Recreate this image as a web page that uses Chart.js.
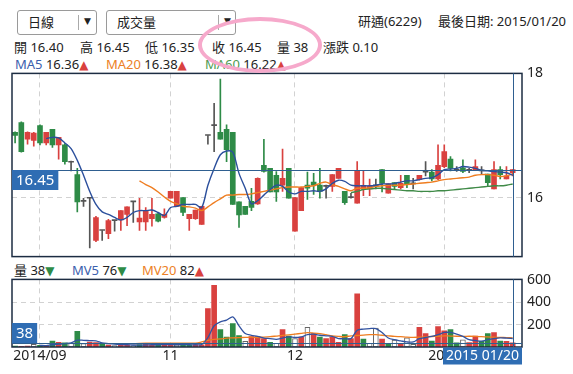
<!DOCTYPE html>
<html>
<head>
<meta charset="utf-8">
<script src="https://cdn.jsdelivr.net/npm/chart.js@4.4.1/dist/chart.umd.min.js"></script>
<style>
body { margin: 0; width: 573px; height: 374px; position: relative; overflow: hidden; background: #fff;
       font-family: "Noto Sans", "Noto Sans CJK TC", sans-serif; font-size: 13px; color: #222; }
.t { position: absolute; white-space: nowrap; line-height: 16px; }
.tri { font-family: "DejaVu Sans", sans-serif; font-size: 12px; }
.up { color: #d9413f; }
.down { color: #2e8b47; }
.sel { position: absolute; top: 10px; height: 25px; border: 1px solid #9a9a9a; border-radius: 3px; box-sizing: border-box; background: #fff; }
.sel .bar { position: absolute; top: 4px; width: 1px; height: 15px; background: #aaa; }
.sel .arr { position: absolute; top: 5px; font-family: "DejaVu Sans", sans-serif; font-size: 9px; color: #222; }
canvas { position: absolute; left: 0; }
#ring { position: absolute; left: 198px; top: 17px; width: 124px; height: 56px; box-sizing: border-box;
        border: 4px solid #f6a9cb; border-radius: 50%; }
</style>
</head>
<body>

<div class="sel" style="left:17px;width:80px"><span class="t" style="left:10px;top:3px">日線</span><div class="bar" style="left:60px"></div><span class="arr" style="left:66px">▼</span></div>
<div class="sel" style="left:106px;width:130px"><span class="t" style="left:10px;top:3px">成交量</span><div class="bar" style="left:111px"></div><span class="arr" style="left:117px">▼</span></div>
<span class="t" style="left:358px;top:13px">研通(6229)</span>
<span class="t" style="left:438px;top:13px">最後日期: 2015/01/20</span>

<span class="t" style="left:14px;top:39px">開 16.40</span>
<span class="t" style="left:80px;top:39px">高 16.45</span>
<span class="t" style="left:145px;top:39px">低 16.35</span>
<span class="t" style="left:212px;top:39px">收 16.45</span>
<span class="t" style="left:277px;top:39px">量 38</span>
<span class="t" style="left:323px;top:39px">漲跌 0.10</span>

<span class="t" style="left:15px;top:56px"><span style="color:#3b60ad">MA5</span> 16.36<span class="tri up">▲</span></span>
<span class="t" style="left:106px;top:56px"><span style="color:#ec7f26">MA20</span> 16.38<span class="tri up">▲</span></span>
<span class="t" style="left:205px;top:56px"><span style="color:#4d9a50">MA60</span> 16.22<span class="tri up">▲</span></span>

<span class="t" style="left:14px;top:262px">量 38<span class="tri down">▼</span></span>
<span class="t" style="left:72px;top:262px"><span style="color:#3b60ad">MV5</span> 76<span class="tri down">▼</span></span>
<span class="t" style="left:142px;top:262px"><span style="color:#ec7f26">MV20</span> 82<span class="tri up">▲</span></span>

<canvas id="price" width="573" height="210" style="top:60px"></canvas>
<canvas id="vol" width="573" height="108" style="top:266px"></canvas>
<div id="ring"></div>

<script>
// 月份刻度
const monthIdx = [4, 25, 45, 69];
const monthText = ['2014/09', '11', '12', '2015'];
const slotCount = 82;

// 日K
const openP = [17.05, 17.21, 16.94, 16.92, 17.16, 16.88, 17.10, 16.85, 16.85, 16.57,
  16.37, 15.94, 15.99, 15.31, 15.47, 15.42, 15.63, 15.64, 15.73, 15.93,
  15.61, 15.61, 15.66, 15.74, 15.68, 15.99, 15.86, 16.00, 15.66, 15.66,
  15.57, 17.00, 17.16, 17.05, 17.10, 17.05, 15.93, 15.86, 15.94, 15.90,
  16.52, 16.47, 16.36, 16.20, 16.47, 15.46, 15.79, 16.20, 16.25, 16.20,
  16.18, 16.18, 16.31, 16.10, 16.00, 15.91, 16.14, 16.14, 16.19, 16.45,
  16.07, 16.24, 16.16, 16.36, 16.22, 16.29, 16.41, 16.41, 16.30, 16.50,
  16.62, 16.44, 16.48, 16.44, 16.45, 16.43, 16.38, 16.14, 16.45, 16.30, 16.40];
const highP = [17.06, 17.22, 17.06, 17.05, 17.17, 17.05, 17.10, 16.97, 16.87, 16.59,
  16.47, 15.99, 15.99, 15.70, 15.47, 15.65, 15.63, 15.79, 15.85, 15.94,
  15.99, 15.84, 15.99, 15.75, 15.82, 16.10, 16.10, 16.00, 15.73, 15.80,
  15.86, 17.00, 17.52, 17.91, 17.17, 17.05, 15.93, 15.86, 16.15, 16.32,
  16.94, 16.47, 16.42, 16.78, 16.47, 16.00, 16.16, 16.41, 16.39, 16.47,
  16.20, 16.37, 16.47, 16.10, 16.07, 16.58, 16.43, 16.30, 16.30, 16.45,
  16.22, 16.24, 16.36, 16.36, 16.31, 16.36, 16.58, 16.45, 16.85, 16.85,
  16.66, 16.50, 16.61, 16.47, 16.61, 16.50, 16.38, 16.58, 16.50, 16.50, 16.45];
const lowP = [16.88, 16.73, 16.86, 16.83, 16.85, 16.85, 16.81, 16.62, 16.54, 16.43,
  15.77, 15.86, 15.19, 15.29, 15.31, 15.34, 15.46, 15.47, 15.55, 15.60,
  15.47, 15.47, 15.54, 15.61, 15.67, 15.99, 15.86, 15.71, 15.47, 15.65,
  15.57, 16.86, 16.74, 16.94, 16.58, 15.89, 15.52, 15.73, 15.79, 15.89,
  16.41, 16.09, 15.94, 16.10, 15.99, 15.46, 15.79, 15.97, 16.05, 15.99,
  15.99, 16.10, 16.31, 15.89, 15.99, 15.91, 16.03, 16.03, 16.14, 16.09,
  16.07, 16.14, 16.14, 16.16, 16.14, 16.28, 16.35, 16.27, 16.29, 16.48,
  16.43, 16.42, 16.40, 16.40, 16.45, 16.38, 16.19, 16.14, 16.30, 16.30, 16.35];
const closeP = [17.00, 16.74, 17.05, 17.04, 16.88, 17.05, 16.85, 16.97, 16.58, 16.57,
  15.93, 15.94, 15.99, 15.68, 15.47, 15.63, 15.63, 15.79, 15.85, 15.93,
  15.67, 15.78, 15.73, 15.62, 15.73, 16.10, 16.10, 15.76, 15.73, 15.80,
  15.86, 17.00, 17.16, 16.94, 16.77, 15.89, 15.72, 15.73, 15.84, 16.31,
  16.42, 16.09, 16.09, 16.31, 15.99, 16.00, 16.16, 16.15, 16.20, 16.10,
  16.18, 16.37, 16.47, 15.92, 16.00, 16.43, 16.19, 16.19, 16.19, 16.23,
  16.22, 16.18, 16.23, 16.22, 16.22, 16.36, 16.41, 16.30, 16.52, 16.74,
  16.47, 16.44, 16.42, 16.44, 16.50, 16.43, 16.24, 16.45, 16.37, 16.35, 16.45];

const ma5 = [null, null, null, null, null, 16.95, 16.97, 16.96, 16.88, 16.79,
  16.60, 16.36, 16.10, 15.89, 15.77, 15.73, 15.68, 15.64, 15.68, 15.76,
  15.79, 15.79, 15.80, 15.76, 15.71, 15.84, 15.86, 15.89, 15.89, 15.89,
  15.84, 16.20, 16.47, 16.69, 16.75, 16.73, 16.39, 16.15, 15.90, 15.95,
  16.04, 16.13, 16.20, 16.18, 16.09, 16.06, 16.10, 16.10, 16.11, 16.10,
  16.14, 16.23, 16.28, 16.26, 16.20, 16.19, 16.19, 16.19, 16.20, 16.22,
  16.22, 16.23, 16.25, 16.27, 16.27, 16.29, 16.31, 16.32, 16.37, 16.45,
  16.46, 16.47, 16.50, 16.49, 16.47, 16.44, 16.43, 16.42, 16.41, 16.40, 16.36];
const ma20 = [null, null, null, null, null, null, null, null, null, null,
  null, null, null, null, null, null, null, null, null, null,
  16.27, 16.21, 16.16, 16.09, 16.01, 15.94, 15.90, 15.86, 15.85, 15.83,
  15.79, 15.85, 15.92, 15.98, 16.04, 16.04, 16.05, 16.05, 16.06, 16.08,
  16.10, 16.12, 16.14, 16.16, 16.17, 16.17, 16.17, 16.18, 16.19, 16.23,
  16.25, 16.21, 16.18, 16.14, 16.11, 16.15, 16.15, 16.16, 16.18, 16.19,
  16.20, 16.20, 16.20, 16.21, 16.22, 16.23, 16.24, 16.25, 16.27, 16.29,
  16.30, 16.31, 16.32, 16.33, 16.36, 16.37, 16.37, 16.36, 16.34, 16.35, 16.38];
const ma60 = [null, null, null, null, null, null, null, null, null, null,
  null, null, null, null, null, null, null, null, null, null,
  null, null, null, null, null, null, null, null, null, null,
  null, null, null, null, null, null, null, null, null, null,
  null, null, null, null, null, null, null, null, null, null,
  null, null, null, null, 16.08, 16.10, 16.13, 16.14, 16.15, 16.15,
  16.14, 16.13, 16.12, 16.11, 16.11, 16.10, 16.10, 16.10, 16.11, 16.11,
  16.12, 16.13, 16.14, 16.15, 16.16, 16.17, 16.18, 16.19, 16.19, 16.20, 16.22];

// 成交量 (張) 與漲跌方向 1 漲 / -1 跌 / 0 平
const volume = [9, 6, 9, 23, 15, 12, 53, 41, 38, 32,
  141, 30, 45, 40, 25, 18, 12, 32, 20, 12,
  22, 25, 20, 28, 22, 30, 18, 25, 20, 22,
  20, 344, 552, 156, 88, 209, 103, 50, 94, 94,
  76, 42, 32, 156, 97, 76, 88, 176, 120, 88,
  76, 88, 42, 112, 76, 476, 70, 32, 170, 70,
  32, 62, 32, 82, 23, 176, 120, 53, 182, 144,
  156, 38, 65, 40, 97, 50, 120, 129, 53, 50, 38];
const volDir = [-1, 1, 1, 0, -1, 1, -1, 1, -1, 0,
  -1, 0, 1, 1, -1, 1, 0, 1, 1, 0,
  -1, 1, 1, -1, 1, 1, 0, -1, -1, 1,
  1, 1, 1, -1, -1, -1, -1, 0, 1, 1,
  1, -1, 0, 1, -1, 0, 1, 0, 1, -1,
  1, 1, 1, -1, 1, 1, -1, 0, 0, 1,
  -1, 0, 1, 0, 0, 1, 1, -1, 1, 1,
  -1, -1, 0, 1, 1, -1, -1, 1, -1, 1, 1];
const mv5 = [null, null, null, null, 14, 13, 20, 25, 30, 37,
  61, 60, 57, 55, 36, 30, 25, 22, 20, 18,
  17, 18, 20, 20, 21, 22, 22, 22, 20, 20,
  22, 85, 190, 225, 240, 270, 190, 120, 105, 95,
  80, 75, 68, 80, 90, 85, 90, 110, 115, 105,
  100, 95, 75, 75, 75, 150, 160, 165, 165, 130,
  80, 65, 55, 45, 45, 75, 85, 95, 110, 130,
  130, 115, 95, 65, 58, 52, 65, 75, 82, 80, 76];
const mv20 = [null, null, null, null, null, null, null, null, null, null,
  null, null, null, null, null, null, null, null, null, 30,
  33, 34, 34, 34, 35, 35, 35, 34, 34, 34,
  45, 60, 68, 72, 80, 82, 84, 86, 88, 85,
  88, 92, 98, 104, 108, 115, 122, 128, 125, 120,
  110, 100, 95, 92, 100, 103, 106, 110, 110, 105,
  100, 95, 92, 88, 86, 88, 90, 94, 96, 100,
  98, 96, 95, 96, 95, 92, 90, 88, 86, 84, 82];

const priceTicks = [16, 18];
const volTicks = [200, 400, 600];
const lastClose = 16.45;
const lastVol = 38;
const lastDate = '2015 01/20';

const RED = '#d9413f', GREEN = '#2e8b47', FLAT = '#555';
const GRID = '#d2d2d2';
const FONT = '"Noto Sans", "Noto Sans CJK TC", sans-serif';
Chart.defaults.font.family = FONT;

const labels = [];
for (let i = 0; i < slotCount; i++) {
  const k = monthIdx.indexOf(i);
  labels.push(k >= 0 ? monthText[k] : '');
}

const candleColor = openP.map((o, i) => closeP[i] > o ? RED : (closeP[i] < o ? GREEN : FLAT));

// 外框
const frame = {
  id: 'frame',
  afterDraw(chart) {
    const { ctx, chartArea: a } = chart;
    ctx.save();
    ctx.strokeStyle = '#1c2c42';
    ctx.lineWidth = 1.5;
    ctx.strokeRect(a.left, a.top, a.right - a.left, a.bottom - a.top);
    ctx.restore();
  }
};

// 十字線 + 標籤
function crossPlugin(value, text, boxAbove, dateBox) {
  return {
    id: 'cross',
    afterDraw(chart) {
      const { ctx, chartArea: a, scales } = chart;
      const y = Math.round(scales.y.getPixelForValue(value)) + 0.5;
      const x = Math.round(scales.x.getPixelForValue(closeP.length - 1)) + 0.5;
      ctx.save();
      ctx.strokeStyle = '#2f5f90';
      ctx.lineWidth = 1;
      ctx.beginPath();
      ctx.moveTo(a.left, y); ctx.lineTo(a.right, y);
      ctx.moveTo(x, a.top); ctx.lineTo(x, a.bottom);
      ctx.stroke();

      ctx.font = '15px ' + FONT;
      ctx.textBaseline = 'middle';
      ctx.textAlign = 'center';
      const w = ctx.measureText(text).width + 8;
      const by = boxAbove ? y - 20.5 : y - 0.5;
      ctx.fillStyle = '#2f6db3';
      ctx.fillRect(a.left, by, w, 20);
      ctx.fillStyle = '#fff';
      ctx.fillText(text, a.left + w / 2, by + 10.5);

      if (dateBox) {
        ctx.fillStyle = '#2f6db3';
        ctx.fillRect(a.right - 79, a.bottom + 0.5, 79, 17);
        ctx.fillStyle = '#fff';
        ctx.font = '14px ' + FONT;
        ctx.fillText(dateBox, a.right - 39.5, a.bottom + 9.5);
      }
      ctx.restore();
    }
  };
}

function lineSet(data, color, width) {
  return { type: 'line', data: data, borderColor: color, borderWidth: width,
           pointRadius: 0, tension: 0.3, order: 0 };
}

function xScale(showTicks) {
  return {
    offset: true,
    ticks: { display: showTicks, autoSkip: false, maxRotation: 0, padding: 1,
             color: '#222', font: { size: 14 } },
    grid: { offset: false, drawTicks: false,
            color: c => monthIdx.includes(c.index) ? GRID : 'transparent' },
    border: { display: false, dash: [5, 4] },
    afterFit: s => { s.height = showTicks ? 27 : 0; }
  };
}

// 價格圖
new Chart(document.getElementById('price'), {
  type: 'bar',
  data: {
    labels: labels,
    datasets: [
      lineSet(ma5, '#2b4f9c', 1.4),
      lineSet(ma20, '#ef7d20', 1.4),
      lineSet(ma60, '#3f8a47', 1.4),
      { data: openP.map((o, i) => [o, closeP[i]]), backgroundColor: candleColor,
        barThickness: 5, minBarLength: 1, grouped: false, order: 4 },
      { data: lowP.map((l, i) => [l, highP[i]]), backgroundColor: candleColor,
        barThickness: 1, grouped: false, order: 5 }
    ]
  },
  options: {
    responsive: false,
    animation: false,
    events: [],
    layout: { padding: { left: 12, top: 13, bottom: 9, right: 0 } },
    plugins: { legend: { display: false }, tooltip: { enabled: false } },
    scales: {
      x: xScale(false),
      y: {
        position: 'right', min: 15.05, max: 18,
        afterBuildTicks: s => { s.ticks = priceTicks.map(v => ({ value: v })); },
        ticks: { color: '#222', font: { size: 14 }, padding: 5 },
        grid: { drawTicks: false, color: c => (c.tick && c.tick.value === 16) ? GRID : 'transparent' },
        border: { display: false, dash: [5, 4] },
        afterFit: s => { s.width = 51; }
      }
    }
  },
  plugins: [frame, crossPlugin(lastClose, lastClose.toFixed(2), false, null)]
});

// 成交量圖
new Chart(document.getElementById('vol'), {
  type: 'bar',
  data: {
    labels: labels,
    datasets: [
      lineSet(mv5, '#3152a0', 1.3),
      lineSet(mv20, '#ef7d20', 1.3),
      { data: volume,
        backgroundColor: volDir.map(d => d > 0 ? RED : (d < 0 ? GREEN : '#fff')),
        borderColor: volDir.map(d => d === 0 ? '#666' : 'rgba(0,0,0,0)'),
        borderWidth: volDir.map(d => d === 0 ? 1 : 0),
        borderSkipped: false,
        barThickness: 5, grouped: false, order: 4 }
    ]
  },
  options: {
    responsive: false,
    animation: false,
    events: [],
    layout: { padding: { left: 12, top: 12, bottom: 0, right: 0 } },
    plugins: { legend: { display: false }, tooltip: { enabled: false } },
    scales: {
      x: xScale(true),
      y: {
        position: 'right', min: 0, max: 605,
        afterBuildTicks: s => { s.ticks = volTicks.map(v => ({ value: v })); },
        ticks: { color: '#222', font: { size: 14 }, padding: 5 },
        grid: { drawTicks: false, color: c => (c.tick && c.tick.value < 600) ? GRID : 'transparent' },
        border: { display: false, dash: [5, 4] },
        afterFit: s => { s.width = 51; }
      }
    }
  },
  plugins: [frame, crossPlugin(lastVol, String(lastVol), true, lastDate)]
});
</script>
</body>
</html>
